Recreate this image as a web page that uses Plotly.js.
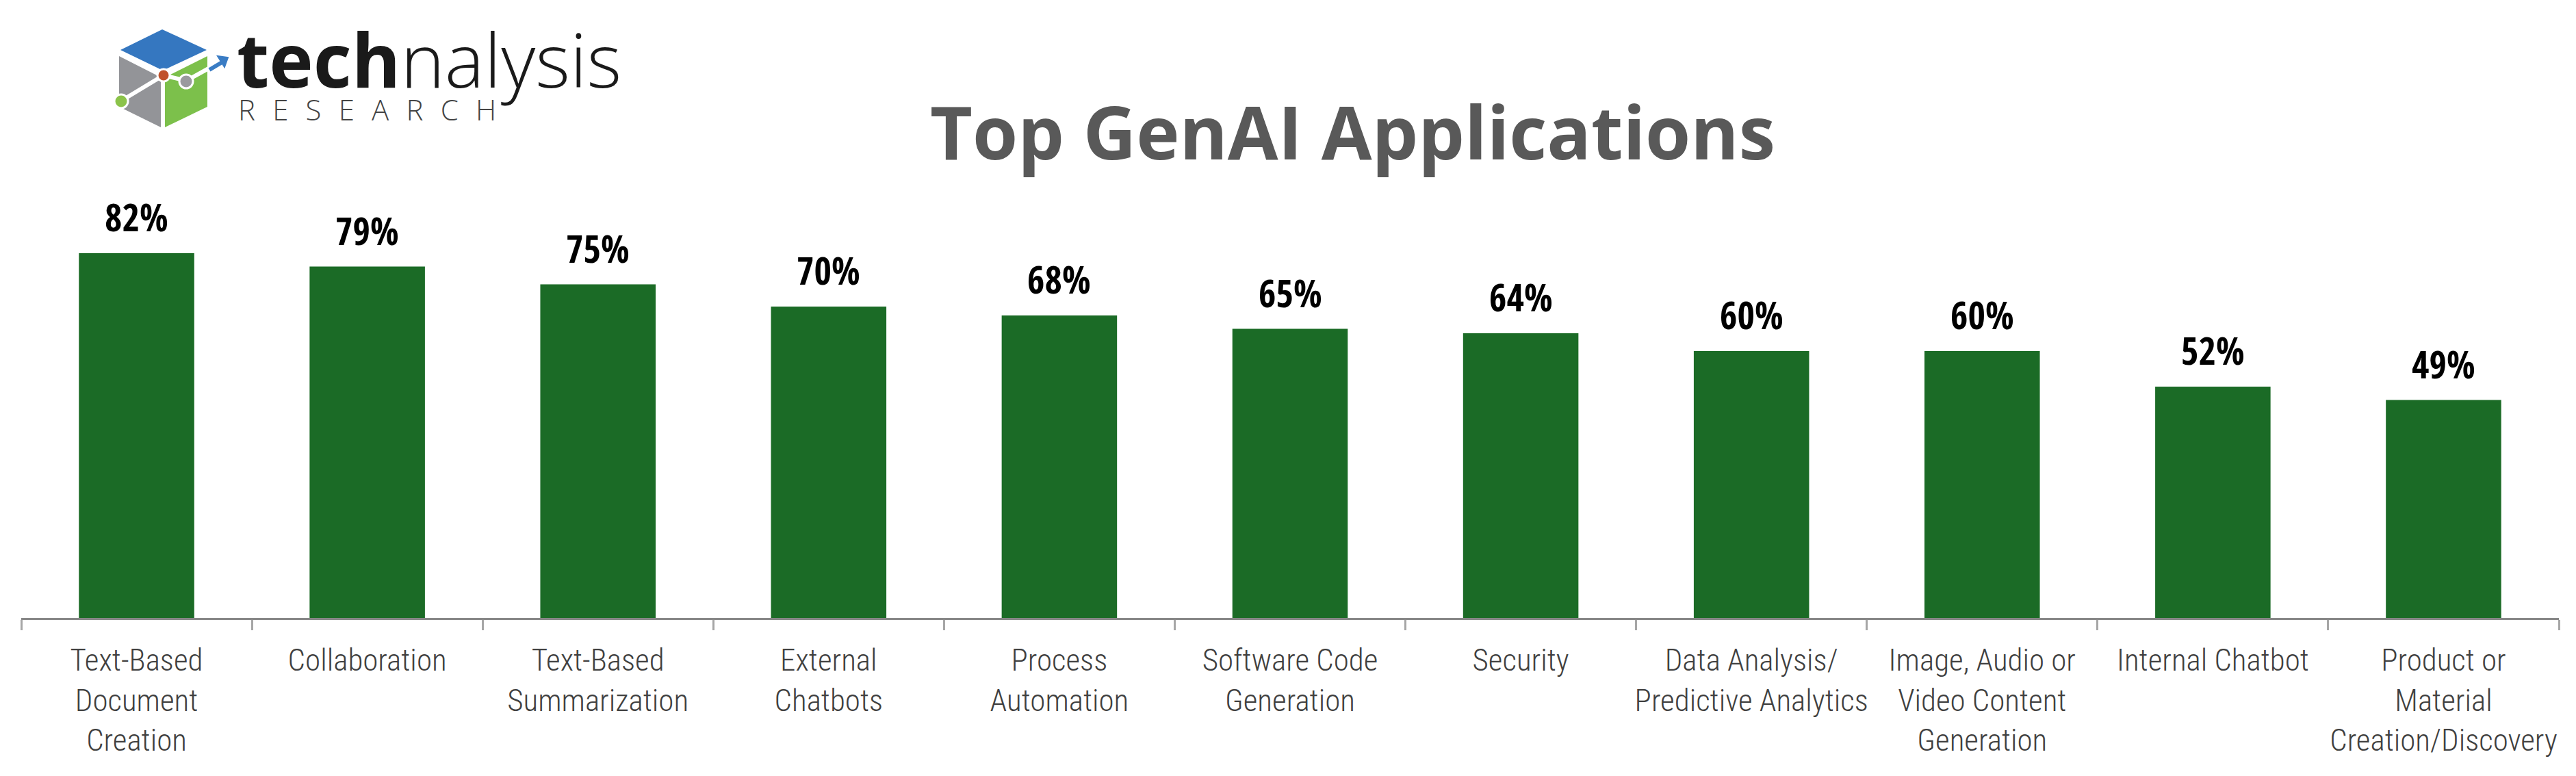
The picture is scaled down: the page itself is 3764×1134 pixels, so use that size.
<!DOCTYPE html>
<html>
<head>
<meta charset="utf-8">
<script src="https://cdn.plot.ly/plotly-3.0.1.min.js"></script>
<style>html,body{margin:0;padding:0;background:#ffffff;}</style>
</head>
<body>
<div id="chart" style="width:3764px;height:1134px;"></div>
<script>
// ---- data ----
const categories = [
  "Text-Based<br>Document<br>Creation",
  "Collaboration",
  "Text-Based<br>Summarization",
  "External<br>Chatbots",
  "Process<br>Automation",
  "Software Code<br>Generation",
  "Security",
  "Data Analysis/<br>Predictive Analytics",
  "Image, Audio or<br>Video Content<br>Generation",
  "Internal Chatbot",
  "Product or<br>Material<br>Creation/Discovery"
];
const values = [82, 79, 75, 70, 68, 65, 64, 60, 60, 52, 49];
const valueLabels = values.map(v => v + "%");
const chartTitle = "Top GenAI Applications";

// ---- geometry helpers for the logo (page pixels -> paper) ----
const W = 3764, H = 1134;
const M = {l: 31, r: 25, t: 0, b: 231};
const PW = W - M.l - M.r, PH = H - M.t - M.b;
const px = x => (x - M.l) / PW;
const py = y => (H - M.b - y) / PH;
const path = pts => pts.map((p, i) => (i ? "L" : "M") + px(p[0]).toFixed(5) + "," + py(p[1]).toFixed(5)).join(" ") + " Z";
const line = pts => pts.map((p, i) => (i ? "L" : "M") + px(p[0]).toFixed(5) + "," + py(p[1]).toFixed(5)).join(" ");
const circle = (cx, cy, r, fill, lc, lw) => ({type: "circle", xref: "paper", yref: "paper",
  x0: px(cx - r), x1: px(cx + r), y0: py(cy + r), y1: py(cy - r),
  fillcolor: fill, line: {color: lc || fill, width: lw || 0}});

const shapes = [
  {type: "path", xref: "paper", yref: "paper", path: path([[237,43],[302,73],[238,103],[176,73]]), fillcolor: "#3577c0", line: {width: 0}},
  {type: "path", xref: "paper", yref: "paper", path: path([[174,82],[235,113],[235,186],[174,156]]), fillcolor: "#939498", line: {width: 0}},
  {type: "path", xref: "paper", yref: "paper", path: path([[241,113],[303,82],[303,156],[241,186]]), fillcolor: "#7cc04b", line: {width: 0}},
  {type: "path", xref: "paper", yref: "paper", path: line([[176,148],[239,110],[272,118],[312,96]]), line: {color: "#ffffff", width: 6}},
  {type: "path", xref: "paper", yref: "paper", path: line([[306,102],[326,90]]), line: {color: "#3a7cc4", width: 6}},
  {type: "path", xref: "paper", yref: "paper", path: path([[318,82],[333,84],[328,98]]), fillcolor: "#3a7cc4", line: {color: "#3a7cc4", width: 2}},
  circle(239, 110, 9, "#c0522b", "#ffffff", 3),
  circle(272, 119, 10, "#9a9a9e", "#ffffff", 3),
  circle(177, 148, 10, "#8bc34a", "#ffffff", 3)
];

const annotations = [];
categories.forEach((c, i) => {
  annotations.push({
    x: c, y: values[i], xref: "x", yref: "y",
    text: "<b>" + valueLabels[i] + "</b>", showarrow: false,
    yanchor: "bottom", yshift: 14,
    font: {family: "'Open Sans Condensed', 'Roboto Condensed', sans-serif", size: 55, color: "#000000"}
  });
});
annotations.push({
  xref: "paper", yref: "paper", x: px(344), y: py(85), xanchor: "left", yanchor: "middle",
  text: "<b>tech</b>nalysis", showarrow: false,
  font: {family: "'Open Sans', sans-serif", size: 109, color: "#1a1a1a", weight: 300}
});
annotations.push({
  xref: "paper", yref: "paper", x: px(346), y: py(159), xanchor: "left", yanchor: "middle",
  text: "R\u2002\u200AE\u2002\u200AS\u2002\u200AE\u2002\u200AA\u2002\u200AR\u2002\u200AC\u2002\u200AH", showarrow: false,
  font: {family: "'Open Sans', sans-serif", size: 42, color: "#444444", weight: 300}
});
annotations.push({
  xref: "paper", yref: "paper", x: px(1976), y: py(192), xanchor: "center", yanchor: "middle",
  text: "<b>" + chartTitle + "</b>", showarrow: false,
  font: {family: "'Open Sans', sans-serif", size: 107, color: "#595959"}
});

const trace = {
  type: "bar",
  x: categories,
  y: values,
  marker: {color: "#1b6b26"},
  hoverinfo: "none"
};

const layout = {
  width: W, height: H,
  margin: M,
  paper_bgcolor: "#ffffff",
  plot_bgcolor: "#ffffff",
  showlegend: false,
  bargap: 0.5,
  xaxis: {
    type: "category",
    showline: true, linecolor: "#888888", linewidth: 3,
    ticks: "outside", tickson: "boundaries", ticklen: 15, tickcolor: "#a6a6a6", tickwidth: 3,
    tickangle: 0, ticklabelstandoff: 20,
    showgrid: false, zeroline: false,
    tickfont: {family: "'Roboto Condensed', 'DejaVu Sans Condensed', sans-serif", size: 45, color: "#404040", weight: 300},
    automargin: false
  },
  yaxis: {
    range: [0, 100],
    domain: [0, 650 / PH],
    visible: false,
    showgrid: false, zeroline: false
  },
  shapes: shapes,
  annotations: annotations
};

Plotly.newPlot("chart", [trace], layout, {displayModeBar: false, staticPlot: true});
</script>
</body>
</html>
